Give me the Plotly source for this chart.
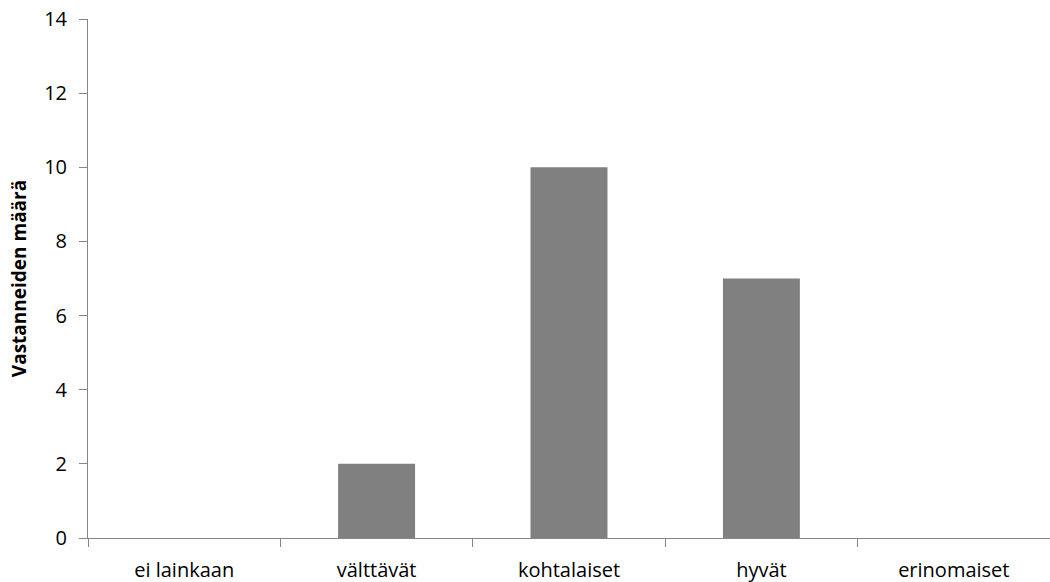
import plotly.graph_objects as go

categories = ["ei lainkaan", "välttävät", "kohtalaiset", "hyvät", "erinomaiset"]
values = [0, 2, 10, 7, 0]
y_title = "Vastanneiden määrä"

fig = go.Figure(go.Bar(
    x=categories, y=values,
    marker=dict(color="#808080", line=dict(width=0)),
    width=0.4,
))

axis_color = "#868686"
font_family = "Open Sans, Liberation Sans, sans-serif"

fig.update_layout(
    width=1050, height=582,
    margin=dict(l=88, r=0, t=18.5, b=43.5, autoexpand=False),
    plot_bgcolor="white", paper_bgcolor="white",
    showlegend=False,
    font=dict(family=font_family, size=20, color="#000000"),
)
fig.update_xaxes(
    showline=True, linecolor=axis_color, linewidth=1,
    ticks="outside", ticklen=8, tickcolor=axis_color,
    tickson="boundaries", showgrid=False,
    tickfont=dict(size=20), ticklabelstandoff=14,
    ticklabeloverflow="allow",
    automargin=False,
)
fig.update_yaxes(
    range=[0, 14], dtick=2, tick0=0,
    showline=True, linecolor=axis_color, linewidth=1,
    ticks="outside", ticklen=8, tickcolor=axis_color,
    showgrid=False, zeroline=False,
    tickfont=dict(size=20),
    ticklabelstandoff=8,
    ticklabeloverflow="allow",
    automargin=False,
    title=dict(text=y_title, font=dict(size=19, weight="bold"), standoff=12),
)

# remove the browser's default 8px body margin so the figure fills the window
fig.write_html(
    "out.html",
    config={"displayModeBar": False},
    post_script="document.body.style.margin='0';document.body.style.overflow='hidden';",
)
